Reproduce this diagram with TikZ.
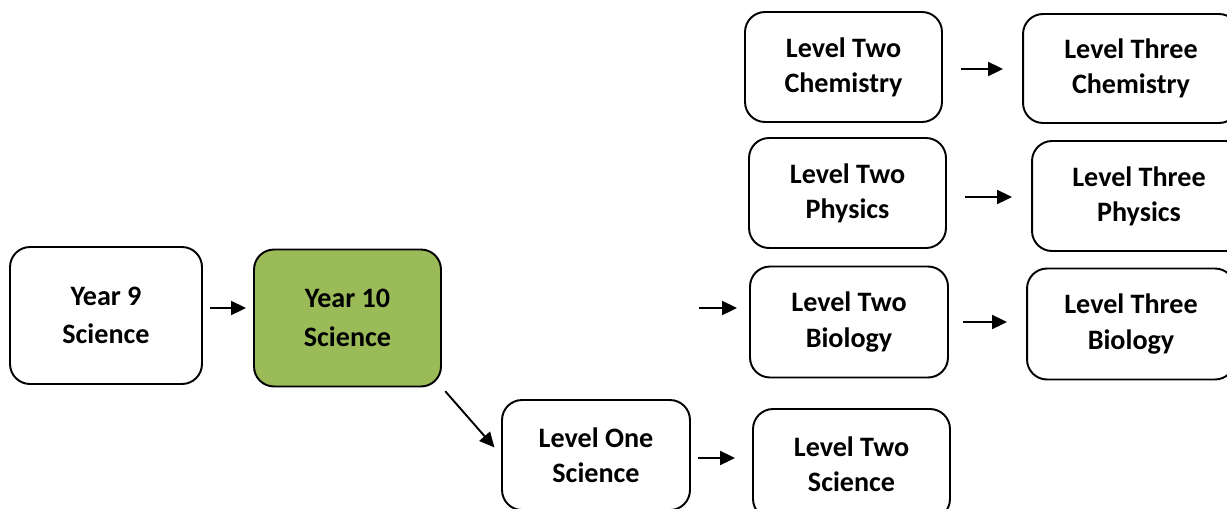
\documentclass[tikz,border=0pt]{standalone}
\usepackage{fontspec}
\setmainfont{Carlito}
\usetikzlibrary{arrows.meta}
\usetikzlibrary{positioning}
\definecolor{yeargreen}{HTML}{9BBB59}
\tikzset {
  % course box
  course/.style = {
    draw = black,
    line width = 1.1pt,
    rounded corners = 0.4cm,
    align = center,
    inner sep = 0,
    minimum width = 3.94cm,
    minimum height = 2.2cm,
    font = \fontsize{16}{20}\selectfont\bfseries
  },
  % year box
  year/.style = {
    course,
    minimum height = 2.74cm,
    font = \fontsize{16}{22}\selectfont\bfseries
  },
  % path style with arrow at the end
  arr/.style = {
    draw = black,
    line width = 1.1pt,
    -{Triangle[length=0.3cm,width=0.28cm]},
    shorten <= 0.14cm,
    shorten >= 0.14cm
  },
  % arrow between level boxes
  larr/.style = {
    arr,
    shorten <= 0.36cm,
    shorten >= 0.38cm
  }
}
\begin{document}
\begin{tikzpicture}[x=0.02cm,y=-0.02cm]
    \useasboundingbox (0,0) rectangle (1227,508);

    \node[year, minimum width=3.84cm] (y9) at (106,315.5) {Year 9\\Science};
    \node[year, fill=yeargreen, minimum width=3.74cm] (y10) at (347.5,318) {Year 10\\Science};

    \node[course, minimum width=3.76cm] (l1sci) at (596,455) {Level One\\Science};
    \node[course] (l2sci) at (851.5,464) {Level Two\\Science};

    \node[course] (l2chem) at (843.5,67) {Level Two\\Chemistry};
    \node[course, minimum width=4.32cm, minimum height=2.18cm] (l3chem) at (1131,68.5) {Level Three\\Chemistry};

    \node[course] (l2phys) at (847.5,193) {Level Two\\Physics};
    \node[course, minimum width=4.28cm] (l3phys) at (1139,196) {Level Three\\Physics};

    \node[course, minimum width=3.96cm, minimum height=2.22cm] (l2bio) at (849,322) {Level Two\\Biology};
    \node[course, minimum width=4.16cm, minimum height=2.22cm] (l3bio) at (1131,324) {Level Three\\Biology};

    \coordinate (bioin) at (699,308);

    \draw[arr] ([yshift=0.15cm]y9.east) -- ([yshift=0.15cm]y9.east -| y10.west);
    \draw[arr, shorten <=0.1cm, shorten >=0.2cm] (y10.south east) -- (l1sci.west);
    \draw[arr, shorten >=0.34cm] ([yshift=-0.06cm]l1sci.east) -- ([yshift=-0.06cm]l1sci.east -| l2sci.west);

    \draw[arr, shorten <=0pt, shorten >=0.24cm] (bioin) -- (bioin -| l2bio.west);

    \draw[larr] ([yshift=-0.04cm]l2chem.east) -- ([yshift=-0.04cm]l2chem.east -| l3chem.west);
    \draw[larr] ([yshift=-0.08cm]l2phys.east) -- ([yshift=-0.08cm]l2phys.east -| l3phys.west);
    \draw[larr, shorten <=0.28cm] (l2bio.east) -- (l2bio.east -| l3bio.west);
  \end{tikzpicture}
\end{document}
